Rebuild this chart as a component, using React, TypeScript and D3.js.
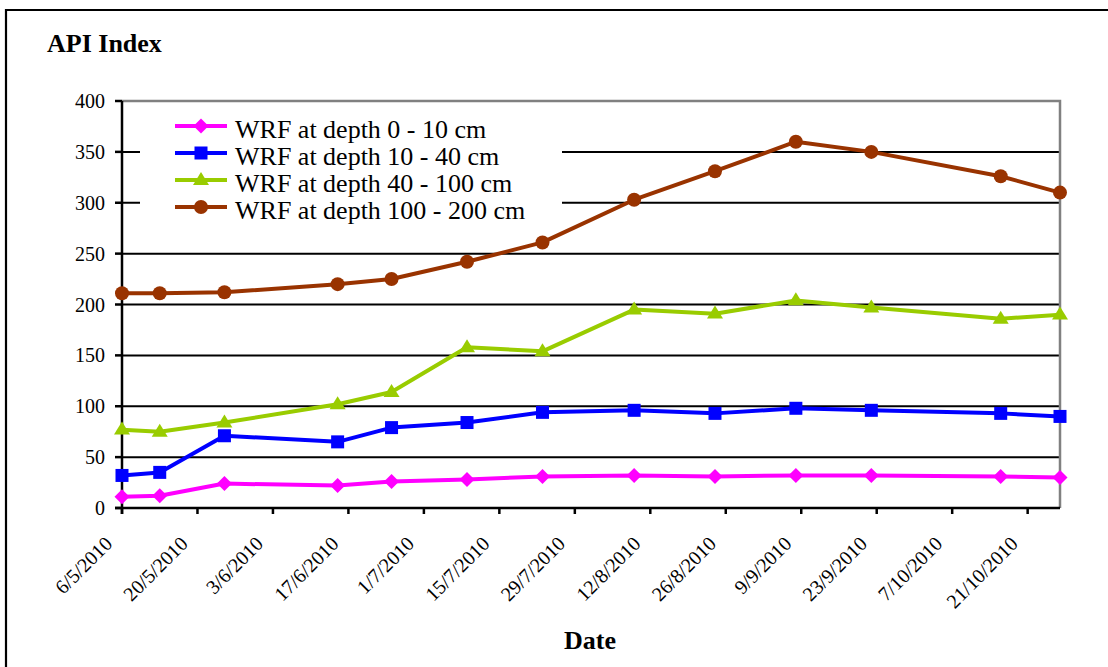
import React from "react";
import * as d3 from "d3";

const dates = [
  "2010-05-06", "2010-05-13", "2010-05-25", "2010-06-15", "2010-06-25",
  "2010-07-09", "2010-07-23", "2010-08-09", "2010-08-24", "2010-09-08",
  "2010-09-22", "2010-10-16", "2010-10-27",
];
const depth0_10 = [11, 12, 24, 22, 26, 28, 31, 32, 31, 32, 32, 31, 30];
const depth10_40 = [32, 35, 71, 65, 79, 84, 94, 96, 93, 98, 96, 93, 90];
const depth40_100 = [77, 75, 84, 102, 114, 158, 154, 195, 191, 204, 197, 186, 190];
const depth100_200 = [211, 211, 212, 220, 225, 242, 261, 303, 331, 360, 350, 326, 310];

const seriesNames = [
  "WRF at depth 0 - 10 cm",
  "WRF at depth 10 - 40 cm",
  "WRF at depth 40 - 100 cm",
  "WRF at depth 100 - 200 cm",
];
const seriesColors = ["#FF00FF", "#0000FF", "#99CC00", "#993300"];
const seriesMarkers = ["diamond", "square", "triangle", "circle"];
const yTicks = [0, 50, 100, 150, 200, 250, 300, 350, 400];
const xTickStart = "2010-05-06";
const xTickEnd = "2010-10-27";
const xTickStepDays = 14;

const W = 1108;
const H = 667;
const L = 122, R = 1060, T = 101, B = 508;

const parse = d3.timeParse("%Y-%m-%d");
const fmt = (d: Date) => `${d.getDate()}/${d.getMonth() + 1}/${d.getFullYear()}`;

const FONT = '"Liberation Serif", "Times New Roman", Times, "DejaVu Serif", serif';

function Marker({ type, x, y, color }: { type: string; x: number; y: number; color: string }) {
  if (type === "diamond") {
    const s = 7.5;
    return <path d={`M${x},${y - s}L${x + s},${y}L${x},${y + s}L${x - s},${y}Z`} fill={color} />;
  }
  if (type === "square") {
    const s = 6.5;
    return <rect x={x - s} y={y - s} width={2 * s} height={2 * s} fill={color} />;
  }
  if (type === "triangle") {
    const w = 8, h = 13;
    return <path d={`M${x},${y - h * 0.62}L${x + w},${y + h * 0.38}L${x - w},${y + h * 0.38}Z`} fill={color} />;
  }
  return <circle cx={x} cy={y} r={7} fill={color} />;
}

export default function App() {
  const allSeries = [depth0_10, depth10_40, depth40_100, depth100_200];
  const dd = dates.map((s) => parse(s) as Date);
  const x = d3.scaleTime().domain([parse(xTickStart) as Date, parse(xTickEnd) as Date]).range([L, R]);
  const y = d3.scaleLinear().domain([0, 400]).range([B, T]);
  const xTicks = d3.timeDay.range(parse(xTickStart) as Date, d3.timeDay.offset(parse(xTickEnd) as Date, 1), xTickStepDays);
  const line = d3.line<[Date, number]>().x((d) => x(d[0])).y((d) => y(d[1]));
  const ts = { fontFamily: FONT } as React.CSSProperties;

  return (
    <svg width={W} height={H} style={{ position: "absolute", left: 0, top: 0, background: "#fff" }}>
      <rect x={0} y={0} width={W} height={H} fill="#fff" />
      {/* outer frame */}
      <path d={`M6,${H + 5}V10H${W + 5}`} fill="none" stroke="#000" strokeWidth={2.2} />
      <text x={47} y={52} style={ts} fontWeight="bold" fontSize={26}>API Index</text>
      {/* gridlines */}
      {yTicks.filter((v) => v > 0 && v < 400).map((v) => (
        <line key={v} x1={L} x2={R} y1={y(v)} y2={y(v)} stroke="#000" strokeWidth={2} />
      ))}
      {/* plot border (top/right) */}
      <path d={`M${L},${T}H${R}V${B}`} fill="none" stroke="#808080" strokeWidth={2.5} />
      {/* y axis */}
      <line x1={L} x2={L} y1={T} y2={B + 6} stroke="#000" strokeWidth={2.5} />
      {yTicks.map((v) => (
        <g key={v}>
          <line x1={L - 7} x2={L} y1={y(v)} y2={y(v)} stroke="#000" strokeWidth={2.5} />
          <text x={105} y={y(v) + 7} textAnchor="end" style={ts} fontSize={20}>{v}</text>
        </g>
      ))}
      {/* x axis */}
      <line x1={L - 7} x2={R} y1={B} y2={B} stroke="#000" strokeWidth={2.5} />
      {xTicks.map((t, i) => (
        <g key={i}>
          <line x1={x(t)} x2={x(t)} y1={B} y2={B + 6} stroke="#000" strokeWidth={2.5} />
          <text
            transform={`translate(${x(t) - 8.5},${545}) rotate(-45)`}
            textAnchor="end"
            style={ts}
            fontSize={20}
          >
            {fmt(t)}
          </text>
        </g>
      ))}
      <text x={590} y={649} textAnchor="middle" style={ts} fontWeight="bold" fontSize={26}>Date</text>
      {/* legend background */}
      <rect x={140} y={110} width={422} height={112} fill="#fff" />
      {/* series */}
      {allSeries.map((vals, si) => {
        const pts = vals.map((v, i) => [dd[i], v] as [Date, number]);
        return (
          <g key={si}>
            <path d={line(pts) || ""} fill="none" stroke={seriesColors[si]} strokeWidth={4} strokeLinejoin="round" />
            {pts.map((p, i) => (
              <Marker key={i} type={seriesMarkers[si]} x={x(p[0])} y={y(p[1])} color={seriesColors[si]} />
            ))}
          </g>
        );
      })}
      {/* legend */}
      {seriesNames.map((n, i) => {
        const ly = 126 + i * 27;
        return (
          <g key={n}>
            <line x1={175} x2={227} y1={ly} y2={ly} stroke={seriesColors[i]} strokeWidth={4} />
            <Marker type={seriesMarkers[i]} x={201} y={ly} color={seriesColors[i]} />
            <text x={235} y={ly + 11.5} style={ts} fontSize={26}>{n}</text>
          </g>
        );
      })}
    </svg>
  );
}
